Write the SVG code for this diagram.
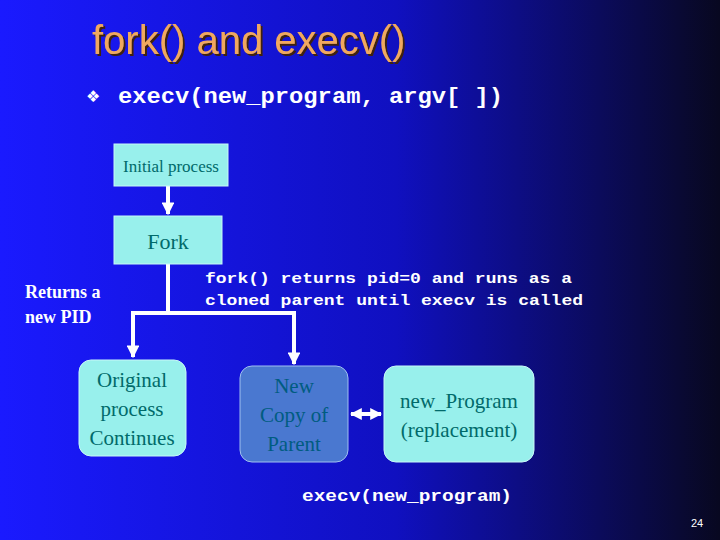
<svg xmlns="http://www.w3.org/2000/svg" width="720" height="540" viewBox="0 0 720 540">
<defs>
<linearGradient id="bg" x1="0" y1="0" x2="1" y2="0">
<stop offset="0" stop-color="#1a1aff"/><stop offset="0.55" stop-color="#1010c0"/><stop offset="1" stop-color="#080820"/>
</linearGradient>
<filter id="sh" x="-5%" y="-5%" width="110%" height="120%"><feDropShadow dx="2" dy="2" stdDeviation="0.5" flood-color="#402010"/></filter>
<marker id="ah" viewBox="0 0 10 10" refX="9" refY="5" markerWidth="3.2" markerHeight="3.2" orient="auto-start-reverse"><path d="M0,0L10,5L0,10z" fill="#fff"/></marker>
<marker id="ah2" viewBox="0 0 10 10" refX="9" refY="5" markerWidth="3" markerHeight="3" orient="auto-start-reverse"><path d="M0,0L10,5L0,10z" fill="#fff"/></marker>
<style>
.box{fill:#98f0ec;stroke:#c8f8f8;stroke-width:1}
.bt{font-family:"Liberation Serif",serif;fill:#006a6a;text-anchor:middle}
.mono{font-family:"Liberation Mono",monospace;font-weight:bold;fill:#fff}
.con{stroke:#fff;stroke-width:4;fill:none}
</style>
</defs>
<rect width="720" height="540" fill="url(#bg)"/>
<text x="92" y="54" font-family="Liberation Sans,sans-serif" font-size="40" fill="#f0a860" filter="url(#sh)">fork() and execv()</text>
<text x="86" y="102" font-family="DejaVu Sans,sans-serif" font-size="16" fill="#fff">❖</text>
<text x="118" y="103" class="mono" font-size="22" font-weight="normal" textLength="385" lengthAdjust="spacingAndGlyphs">execv(new_program, argv[ ])</text>
<g id="connectors">
<path class="con" d="M168,186V214" marker-end="url(#ah)"/>
<path class="con" d="M168,264V313H133V357" marker-end="url(#ah)"/>
<path class="con" d="M168,313H294V364" marker-end="url(#ah)"/>
<path class="con" stroke-width="4" d="M351,414H381" marker-start="url(#ah2)" marker-end="url(#ah2)"/>
</g>
<g id="initial"><rect class="box" x="114" y="144" width="114" height="42"/><text class="bt" x="171" y="172" font-size="17">Initial process</text></g>
<g id="fork"><rect class="box" x="114" y="216" width="108" height="48"/><text class="bt" x="168" y="249" font-size="22">Fork</text></g>
<g id="original"><rect class="box" x="79" y="360" width="107" height="96" rx="12"/><text class="bt" font-size="21"><tspan x="132" y="387">Original</tspan><tspan x="132" y="416">process</tspan><tspan x="132" y="445">Continues</tspan></text></g>
<g id="copy"><rect x="240" y="366" width="108" height="96" rx="12" fill="#4a78d0" stroke="#a0c0f0"/><text class="bt" font-size="21" style="fill:#005c80"><tspan x="294" y="393">New</tspan><tspan x="294" y="422">Copy of</tspan><tspan x="294" y="451">Parent</tspan></text></g>
<g id="newprog"><rect class="box" x="384" y="366" width="150" height="96" rx="12"/><text class="bt" font-size="21"><tspan x="459" y="408">new_Program</tspan><tspan x="459" y="437">(replacement)</tspan></text></g>
<text font-family="Liberation Serif,serif" font-weight="bold" font-size="18" fill="#fff"><tspan x="25" y="298">Returns a</tspan><tspan x="25" y="323">new PID</tspan></text>
<text class="mono" font-size="15"><tspan x="205" y="283" textLength="367" lengthAdjust="spacingAndGlyphs">fork() returns pid=0 and runs as a</tspan><tspan x="205" y="305" textLength="378" lengthAdjust="spacingAndGlyphs">cloned parent until execv is called</tspan></text>
<text x="302" y="501" class="mono" font-size="17" font-weight="normal" textLength="210" lengthAdjust="spacingAndGlyphs">execv(new_program)</text>
<text x="691" y="527" font-family="Liberation Sans,sans-serif" font-size="11" fill="#fff">24</text>
</svg>
